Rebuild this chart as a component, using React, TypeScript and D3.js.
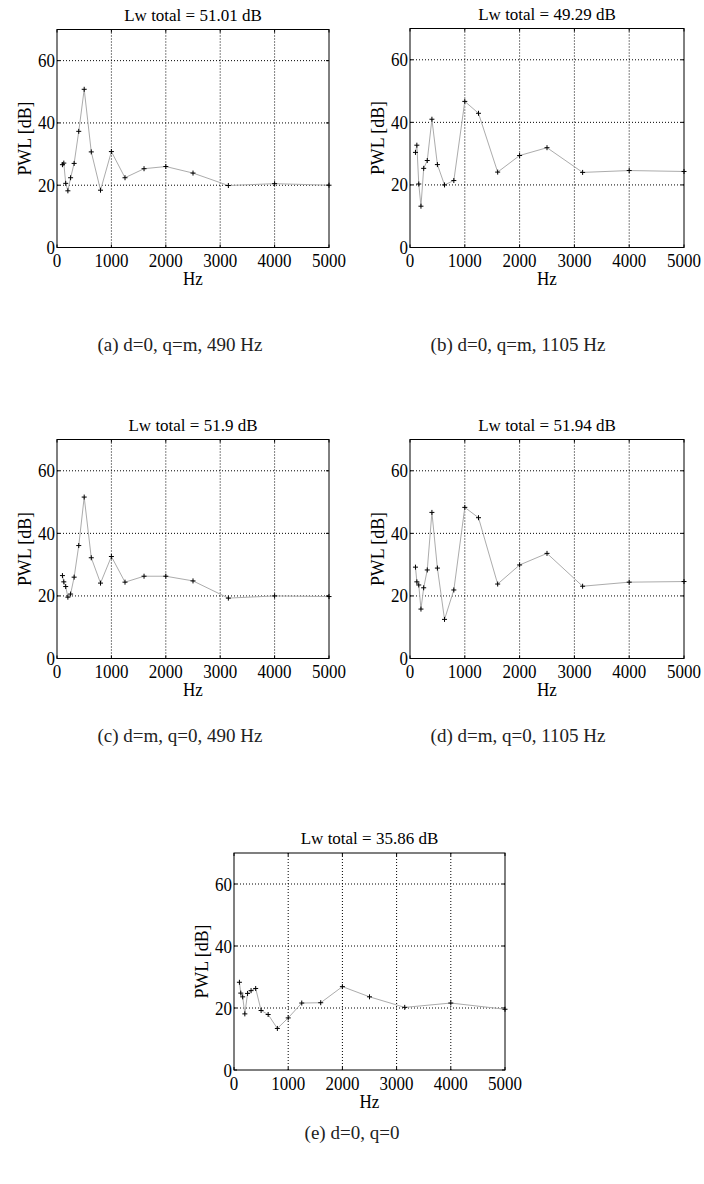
import React from "react";
import * as d3 from "d3";

const freqs = [100, 125, 160, 200, 250, 315, 400, 500, 630, 800, 1000, 1250, 1600, 2000, 2500, 3150, 4000, 5000];
const pwlA = [26.6, 27.1, 20.6, 18.2, 22.4, 27.0, 37.3, 50.8, 30.7, 18.4, 30.8, 22.4, 25.3, 26.0, 23.9, 19.9, 20.5, 20.0];
const pwlB = [30.4, 32.7, 20.3, 13.2, 25.3, 27.8, 41.0, 26.5, 20.0, 21.4, 46.7, 42.9, 24.1, 29.4, 31.9, 24.0, 24.6, 24.3];
const pwlC = [26.5, 24.5, 23.0, 19.6, 20.6, 26.0, 36.1, 51.6, 32.2, 24.1, 32.6, 24.4, 26.3, 26.3, 24.8, 19.3, 20.0, 19.8];
const pwlD = [29.2, 24.5, 23.5, 15.8, 22.6, 28.3, 46.7, 28.9, 12.5, 21.9, 48.3, 45.0, 23.8, 29.9, 33.6, 23.1, 24.4, 24.6];
const pwlE = [28.3, 24.8, 23.6, 18.1, 24.7, 25.6, 26.3, 19.2, 17.9, 13.4, 16.8, 21.6, 21.7, 26.9, 23.6, 20.2, 21.6, 19.6];
const titles = ["Lw total = 51.01 dB", "Lw total = 49.29 dB", "Lw total = 51.9 dB", "Lw total = 51.94 dB", "Lw total = 35.86 dB"];
const captions = ["(a) d=0, q=m, 490 Hz", "(b) d=0, q=m, 1105 Hz", "(c) d=m, q=0, 490 Hz", "(d) d=m, q=0, 1105 Hz", "(e) d=0, q=0"];
const xTicks = [0, 1000, 2000, 3000, 4000, 5000];
const yTicks = [0, 20, 40, 60];
const xDomain = [0, 5000];
const yDomain = [0, 70];

const FONT = "'Liberation Serif', 'Times New Roman', serif";

type Box = { left: number; right: number; top: number; bottom: number; capX: number; capY: number };

const boxes: Box[] = [
  { left: 57, right: 329, top: 29.5, bottom: 247.5, capX: 180, capY: 351 },
  { left: 410, right: 684, top: 28.5, bottom: 247.5, capX: 518, capY: 351 },
  { left: 57, right: 329, top: 439.5, bottom: 658.5, capX: 180, capY: 742 },
  { left: 410, right: 684, top: 439.5, bottom: 658.5, capX: 518, capY: 742 },
  { left: 234, right: 505, top: 853, bottom: 1070, capX: 352, capY: 1139 },
];

const series = [pwlA, pwlB, pwlC, pwlD, pwlE];

function Panel({ box, values, title, caption }: { box: Box; values: number[]; title: string; caption: string }) {
  const x = d3.scaleLinear().domain(xDomain).range([box.left, box.right]);
  const y = d3.scaleLinear().domain(yDomain).range([box.bottom, box.top]);
  const pts: [number, number][] = freqs.map((f, i) => [x(f), y(values[i])]);
  const line = d3.line()(pts) || "";
  const cx = (box.left + box.right) / 2;
  const cy = (box.top + box.bottom) / 2;
  const tl = 3;
  return (
    <g>
      {xTicks.slice(1, -1).map((t) => (
        <line key={"gx" + t} x1={x(t)} x2={x(t)} y1={box.top} y2={box.bottom} stroke="#000" strokeWidth={1} strokeDasharray="1,2" />
      ))}
      {yTicks.slice(1).map((t) => (
        <line key={"gy" + t} x1={box.left} x2={box.right} y1={y(t)} y2={y(t)} stroke="#000" strokeWidth={1} strokeDasharray="1,2" />
      ))}
      {xTicks.map((t) => (
        <g key={"tx" + t}>
          <line x1={x(t)} x2={x(t)} y1={box.bottom} y2={box.bottom - tl} stroke="#000" />
          <line x1={x(t)} x2={x(t)} y1={box.top} y2={box.top + tl} stroke="#000" />
          <text transform={`translate(${x(t)},${box.bottom + 19.5}) scale(1,1.15)`} textAnchor="middle" fontSize={17} fontFamily={FONT} fill="#000">{t}</text>
        </g>
      ))}
      {yTicks.map((t) => (
        <g key={"ty" + t}>
          <line x1={box.left} x2={box.left + tl} y1={y(t)} y2={y(t)} stroke="#000" />
          <line x1={box.right} x2={box.right - tl} y1={y(t)} y2={y(t)} stroke="#000" />
          <text transform={`translate(${box.left - 2},${y(t) + 6.5}) scale(1,1.15)`} textAnchor="end" fontSize={17} fontFamily={FONT} fill="#000">{t}</text>
        </g>
      ))}
      <path d={line} fill="none" stroke="#acacac" strokeWidth={1} />
      {pts.map(([px, py], i) => (
        <g key={"m" + i} stroke="#000" strokeWidth={1}>
          <line x1={px - 2.5} x2={px + 2.5} y1={py} y2={py} />
          <line x1={px} x2={px} y1={py - 2.5} y2={py + 2.5} />
        </g>
      ))}
      <rect x={box.left} y={box.top} width={box.right - box.left} height={box.bottom - box.top} fill="none" stroke="#000" strokeWidth={1} />
      <text x={cx} y={box.top - 9} textAnchor="middle" fontSize={17} fontFamily={FONT} fill="#000">{title}</text>
      <text transform={`translate(${cx},${box.bottom + 37.5}) scale(1,1.1)`} textAnchor="middle" fontSize={17} fontFamily={FONT} fill="#000">Hz</text>
      <text transform={`translate(${box.left - 26},${cy}) rotate(-90) scale(1.05,1.1)`} textAnchor="middle" fontSize={17} fontFamily={FONT} fill="#000">PWL [dB]</text>
      <text x={box.capX} y={box.capY} textAnchor="middle" fontSize={19} fontFamily={FONT} fill="#222">{caption}</text>
    </g>
  );
}

export default function App() {
  return (
    <div style={{ position: "absolute", left: 0, top: 0 }}>
      <svg width={704} height={1184} style={{ display: "block", background: "#fff" }}>
        {boxes.map((b, i) => (
          <Panel key={i} box={b} values={series[i]} title={titles[i]} caption={captions[i]} />
        ))}
      </svg>
    </div>
  );
}
